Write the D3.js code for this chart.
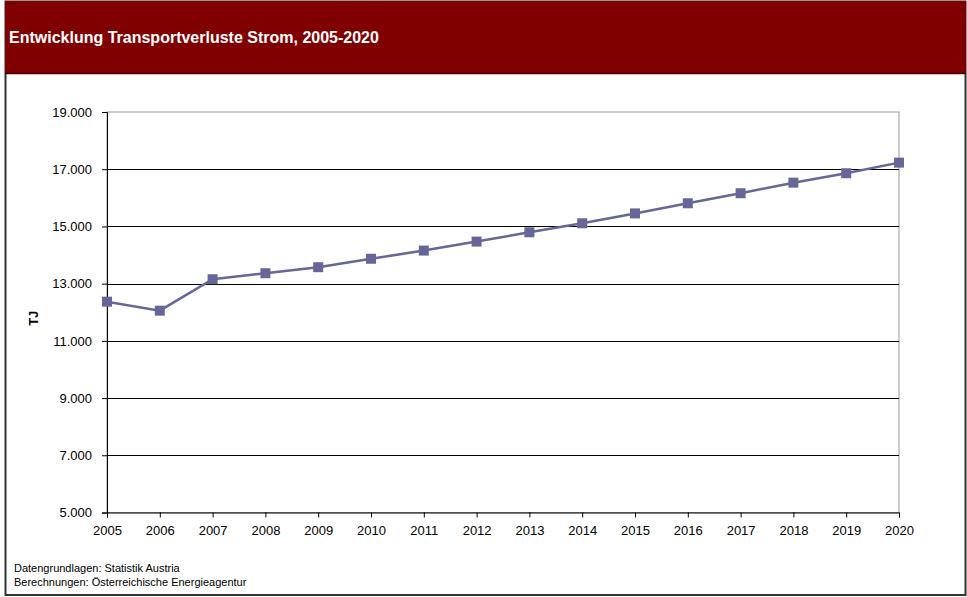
<!DOCTYPE html>
<html>
<head>
<meta charset="utf-8">
<script src="https://cdn.jsdelivr.net/npm/d3@7"></script>
<style>
  body { margin: 0; background: #fff; }
  text { font-family: "Liberation Sans", Arial, sans-serif; }
</style>
</head>
<body>
<script>
// DATA
const years = [2005, 2006, 2007, 2008, 2009, 2010, 2011, 2012, 2013, 2014, 2015, 2016, 2017, 2018, 2019, 2020];
const losses = [12370, 12055, 13155, 13365, 13575, 13870, 14155, 14470, 14795, 15110, 15455, 15810, 16160, 16530, 16860, 17230];
const yTicks = [5000, 7000, 9000, 11000, 13000, 15000, 17000, 19000];

const width = 967, height = 597;
const lineColor = '#666699';
const plot = {left: 107, right: 899, top: 112, bottom: 512.5};

const svg = d3.select('body').append('svg').attr('width', width).attr('height', height);

// frame + title band
svg.append('rect')
    .attr('x', 5.5).attr('y', 1.5).attr('width', 960).attr('height', 593.5)
    .attr('fill', '#fff').attr('stroke', '#333').attr('stroke-width', 2);
svg.append('rect')
    .attr('x', 5).attr('y', 1).attr('width', 961).attr('height', 72)
    .attr('fill', '#800000');
svg.append('line')
    .attr('x1', 5).attr('x2', 966).attr('y1', 73.5).attr('y2', 73.5)
    .attr('stroke', '#4a0000').attr('stroke-width', 1.5);
svg.append('text')
    .attr('x', 9).attr('y', 43)
    .attr('fill', '#fff')
    .style('font-size', '16px').style('font-weight', 'bold')
    .text('Entwicklung Transportverluste Strom, 2005-2020');

// scales
const x = d3.scaleLinear().domain([2005, 2020]).range([plot.left, plot.right]);
const y = d3.scaleLinear().domain([5000, 19000]).range([plot.bottom, plot.top]);
const fmtTick = v => d3.format(',')(v).replace(',', '.');

// plot border (gray top/right)
svg.append('rect')
    .attr('x', plot.left).attr('y', y(19000))
    .attr('width', plot.right - plot.left).attr('height', plot.bottom - y(19000))
    .attr('fill', 'none').attr('stroke', '#999').attr('stroke-width', 1);

// gridlines
svg.append('g').selectAll('line')
  .data(yTicks.filter(d => d > 5000 && d < 19000))
  .enter().append('line')
    .attr('x1', plot.left).attr('x2', plot.right)
    .attr('y1', d => Math.round(y(d)) + 0.5).attr('y2', d => Math.round(y(d)) + 0.5)
    .attr('stroke', '#000').attr('stroke-width', 1);

// y axis
const yAxis = svg.append('g')
    .attr('transform', `translate(${plot.left},0)`)
    .call(d3.axisLeft(y).tickValues(yTicks).tickSize(5).tickPadding(10).tickFormat(fmtTick));
yAxis.select('.domain').attr('stroke', '#000');
yAxis.selectAll('text').style('font-size', '13px').attr('fill', '#000');

// x axis
const xAxis = svg.append('g')
    .attr('transform', `translate(0,${plot.bottom})`)
    .call(d3.axisBottom(x).tickValues(years).tickSize(5).tickPadding(8).tickFormat(d3.format('d')));
xAxis.select('.domain').attr('stroke', '#000');
xAxis.selectAll('text').style('font-size', '13px').attr('fill', '#000');

// y label
svg.append('text')
    .attr('transform', `translate(38,${(plot.top + plot.bottom) / 2 + 6}) rotate(-90)`)
    .attr('text-anchor', 'middle')
    .style('font-size', '13px').style('font-weight', 'bold')
    .text('TJ');

// line
const line = d3.line().x((d, i) => x(years[i])).y(d => y(d));
svg.append('path')
    .datum(losses)
    .attr('d', line)
    .attr('fill', 'none')
    .attr('stroke', lineColor)
    .attr('stroke-width', 2.5);

// markers
const ms = 10;
svg.append('g').selectAll('rect')
  .data(losses)
  .enter().append('rect')
    .attr('x', (d, i) => x(years[i]) - ms / 2)
    .attr('y', d => y(d) - ms / 2)
    .attr('width', ms).attr('height', ms)
    .attr('fill', lineColor);

// footnotes
svg.append('text').attr('x', 14).attr('y', 572).style('font-size', '11px')
    .text('Datengrundlagen: Statistik Austria');
svg.append('text').attr('x', 14).attr('y', 586).style('font-size', '11px')
    .text('Berechnungen: Österreichische Energieagentur');
</script>
</body>
</html>
